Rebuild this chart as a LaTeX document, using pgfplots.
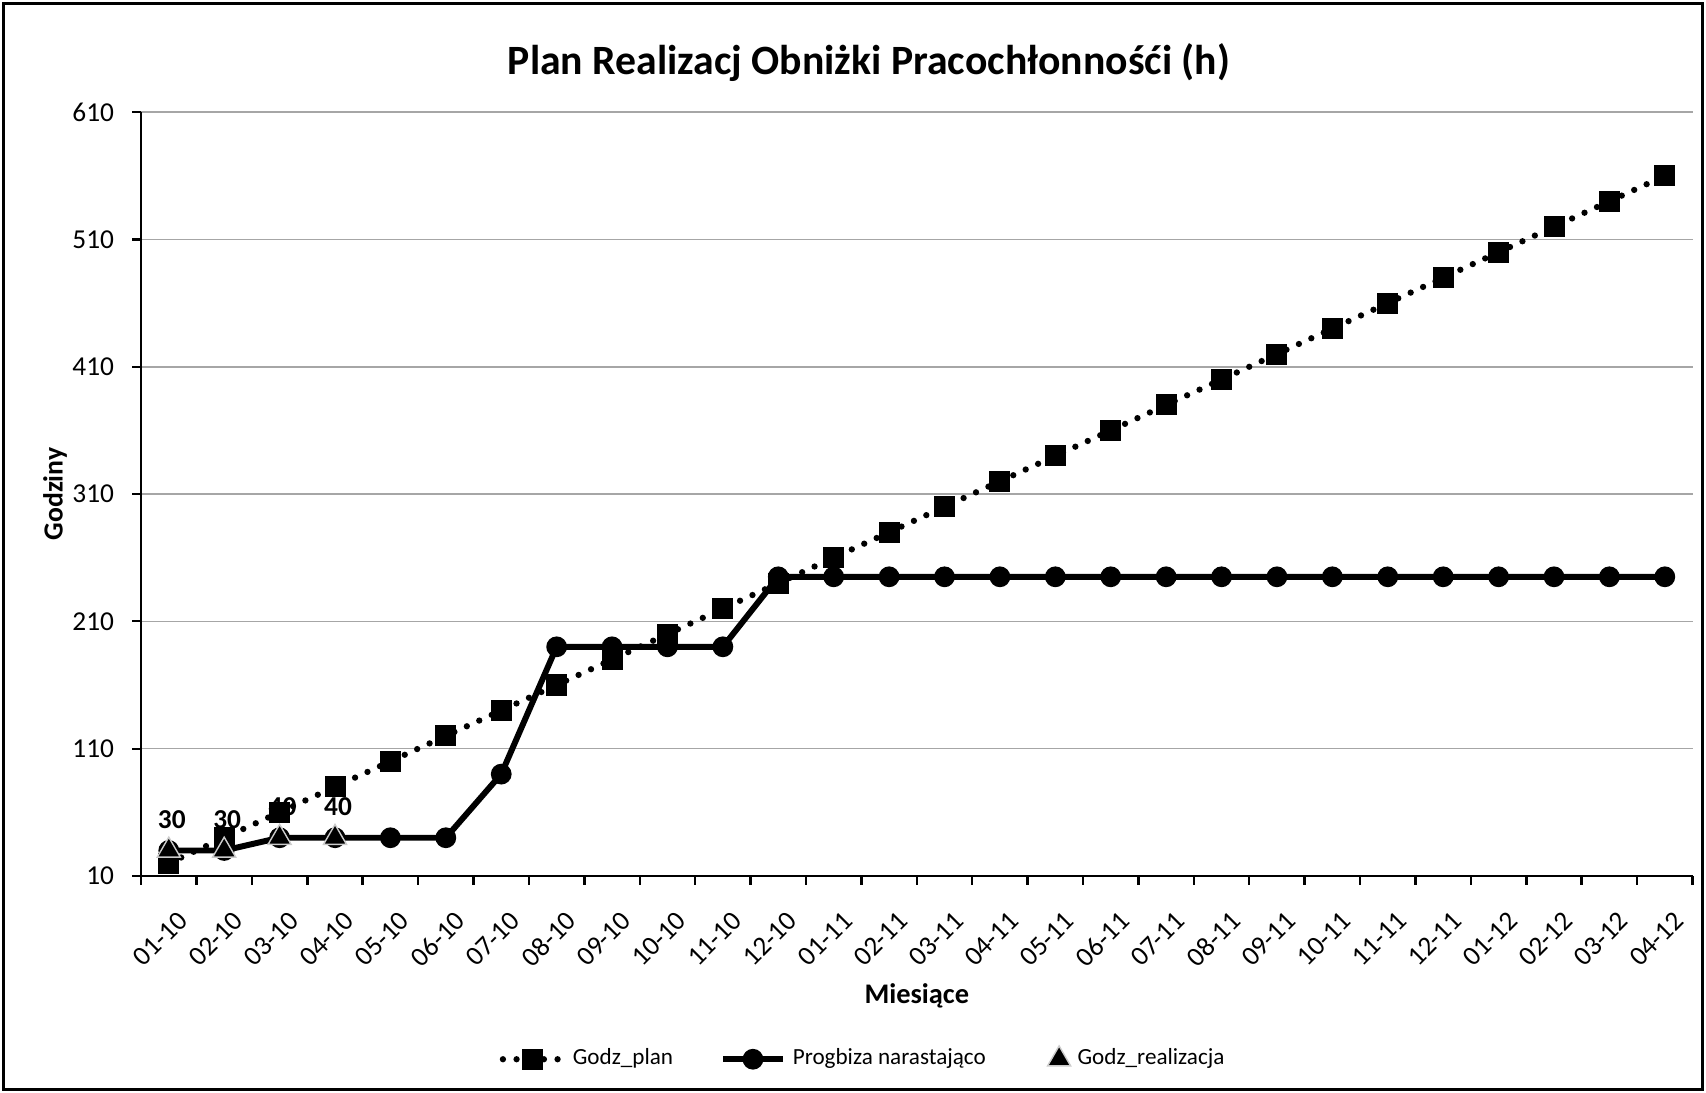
\documentclass[border=0pt]{standalone}
\usepackage{fontspec}
\setmainfont{Carlito}
\usepackage{pgfplots}
\pgfplotsset{compat=1.18}

% plan: +20 h per month
\pgfplotstableread{
x y
0 20
1 40
2 60
3 80
4 100
5 120
6 140
7 160
8 180
9 200
10 220
11 240
12 260
13 280
14 300
15 320
16 340
17 360
18 380
19 400
20 420
21 440
22 460
23 480
24 500
25 520
26 540
27 560
}\planTab

\pgfplotstableread{
x y
0 30
1 30
2 40
3 40
4 40
5 40
6 90
7 190
8 190
9 190
10 190
11 245
12 245
13 245
14 245
15 245
16 245
17 245
18 245
19 245
20 245
21 245
22 245
23 245
24 245
25 245
26 245
27 245
}\progTab

\pgfplotstableread{
x y
0 30
1 30
2 40
3 40
}\realTab

\begin{document}
\begin{tikzpicture}
\draw[line width=0.7pt] (-1.38cm,-2.14cm) rectangle (15.66cm,8.75cm);
\begin{axis}[
    at={(0,0)}, anchor=south west,
    scale only axis,
    width=15.56cm, height=7.66cm,
    xmin=-0.5, xmax=27.5,
    ymin=10, ymax=610,
    ytick={10,110,...,610},
    xtick={0,...,27},
    xticklabels={01-10,02-10,03-10,04-10,05-10,06-10,07-10,08-10,09-10,10-10,11-10,12-10,
                 01-11,02-11,03-11,04-11,05-11,06-11,07-11,08-11,09-11,10-11,11-11,12-11,
                 01-12,02-12,03-12,04-12},
    minor xtick={-0.5,0.5,...,27.5},
    major x tick style={draw=none},
    minor x tick style={black, line width=0.7pt},
    y tick style={black, line width=0.6pt},
    tick align=outside,
    major tick length=2.5pt,
    minor tick length=2.5pt,
    axis x line*=bottom,
    axis y line*=left,
    axis line style={-, line width=0.7pt},
    ymajorgrids,
    grid style={gray!70, line width=0.45pt},
    /pgf/number format/assume math mode=true,
    yticklabel style={font=\fontsize{7.8}{9}\selectfont, xshift=-0.6mm},
    xticklabel style={font=\fontsize{7.8}{9}\selectfont, rotate=45, anchor=north east,
        yshift=-1.1mm, xshift=0mm},
    ylabel={\bfseries Godziny},
    ylabel style={at={(axis description cs:-0.0555,0.5)}, anchor=center, font=\fontsize{7.9}{9}\selectfont},
    xlabel={\bfseries Miesiące},
    xlabel style={at={(axis description cs:0.5,-0.157)}, anchor=center, font=\fontsize{8.1}{10}\selectfont},
    legend columns=3,
    legend style={at={(axis description cs:0.467,-0.240)}, anchor=center, draw=none,
        font=\fontsize{6.6}{8}\selectfont,
        /tikz/column 2/.style={column sep=0.4cm},
        /tikz/column 4/.style={column sep=0.55cm}},
    clip=false,
]
\addplot[black, line width=1.8pt, line cap=round, dash pattern=on 0pt off 3.9pt,
    mark=square*, mark size=2.1pt, mark options={solid, fill=black}] table {\planTab};
\addlegendentry{Godz\_plan}

\addplot[black, line width=1.7pt, mark=*, mark size=2.1pt,
    mark options={solid, fill=black}] table {\progTab};
\addlegendentry{Progbiza narastająco}

\addplot[only marks, mark=triangle*, mark size=3.8pt,
    mark options={fill=black, draw=gray!40, line width=0.4pt},
    nodes near coords, point meta=y,
    every node near coord/.append style={font=\bfseries\fontsize{7.8}{9}\selectfont,
        anchor=center, yshift=3.1mm, xshift=0.3mm}] table {\realTab};
\addlegendentry{Godz\_realizacja}
\end{axis}
\node[font=\bfseries\fontsize{11.9}{14}\selectfont] at (7.30cm,8.16cm)
    {Plan Realizacj Obniżki Pracochłonnośći (h)};
\pgfresetboundingbox
\path (-1.415cm,-2.175cm) rectangle (15.695cm,8.785cm);
\end{tikzpicture}
\end{document}
